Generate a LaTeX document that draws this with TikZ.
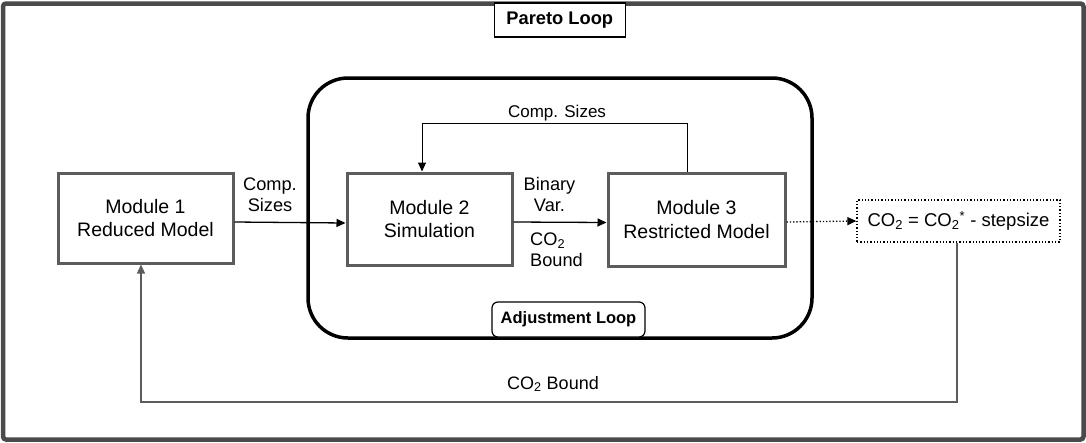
\documentclass[tikz,border=0pt]{standalone}
\usepackage{fontspec}
\setmainfont{Liberation Sans}
\usetikzlibrary{arrows.meta,calc}
\definecolor{framegray}{HTML}{4A4A4A}
\definecolor{boxgray}{HTML}{5C5C5C}
\tikzset{
  txt/.style={font=\fontsize{18.2}{21}\selectfont, align=center, inner sep=0pt},
  boldlbl/.style={font=\bfseries, inner sep=0pt},
  module/.style={draw=boxgray, line width=3pt, fill=white, inner sep=0pt,
    font=\fontsize{19.5}{23.5}\selectfont, align=center},
  flow/.style={line width=1.3pt, -{Triangle[length=9pt,width=8pt]}},
  back/.style={draw=boxgray, line width=1.3pt},
}
\begin{document}
\begin{tikzpicture}[x=1pt,y=-1pt]
\useasboundingbox (0,0) rectangle (1086,442);
% outer Pareto frame
\draw[framegray, line width=4.5pt, rounded corners=3pt] (3,3.5) rectangle (1083.5,439.5);
% inner adjustment loop
\draw[line width=3.5pt, rounded corners=40pt] (308,78) rectangle (812,338);
% loop titles
\node[draw, line width=1.2pt, fill=white, minimum width=131pt, minimum height=34pt, boldlbl,
  font=\fontsize{18.3}{21}\selectfont\bfseries] (pareto) at (559.8,20) {Pareto Loop};
\node[draw, line width=1.2pt, fill=white, rounded corners=6pt, minimum width=153pt,
  minimum height=35pt, boldlbl, font=\fontsize{16.5}{20}\selectfont\bfseries]
  (adjust) at (568.5,319.5) {Adjustment Loop};
% modules
\node[module, minimum width=175pt, minimum height=90pt] (m1) at (145.5,218) {Module 1\\Reduced Model};
\node[module, minimum width=165pt, minimum height=92pt] (m2) at (429.5,219) {Module 2\\Simulation};
\node[module, minimum width=177pt, minimum height=93pt] (m3) at (696.5,219.5) {Module 3\\Restricted Model};
% step update box
\node[draw, line width=1.3pt, dotted, minimum width=203pt, minimum height=42pt, inner sep=0pt,
  font=\fontsize{18.5}{21}\selectfont] (co2) at (958.5,221)
  {CO\textsubscript{2} = CO\textsubscript{2}\textsuperscript{*} - stepsize};
% route points
\coordinate (fbL) at (422,123);
\coordinate (fbR) at (687,123);
\coordinate (bbL) at (141,402);
\coordinate (bbR) at (957,402);
% forward flow
\draw[flow] ([yshift=-4pt]m1.east) -- ([yshift=-4pt]m2.west);
\draw[flow] ([yshift=-3pt]m2.east) -- ([yshift=-3pt]m3.west);
\draw[flow, dotted] ([yshift=-2.5pt]m3.east) -- (co2.west);
% feedback inside the adjustment loop
\draw[flow, line width=1pt] (m3.north -| fbR) -- (fbR) -- (fbL) -- (m2.north -| fbL);
% feedback of the CO2 bound
\draw[back, -{Triangle[length=9pt,width=8pt]}, line width=1.3pt] (co2.south -| bbR) -- (bbR) -- (bbL) -- (m1.south -| bbL);
% labels
\node[txt] (lcomp) at (270,195) {Comp.\\Sizes};
\node[txt] (lbin) at (549.5,194.5) {Binary\\Var.};
\node[txt, align=left, anchor=west] (lbound) at (530,250) {CO\textsubscript{2}\\Bound};
\node[txt, font=\fontsize{17}{20}\selectfont] (ltop) at (557,113) {Comp. Sizes};
\node[txt, font=\fontsize{18}{21}\selectfont] (lbot) at (553,384) {CO\textsubscript{2} Bound};
\end{tikzpicture}
\end{document}
